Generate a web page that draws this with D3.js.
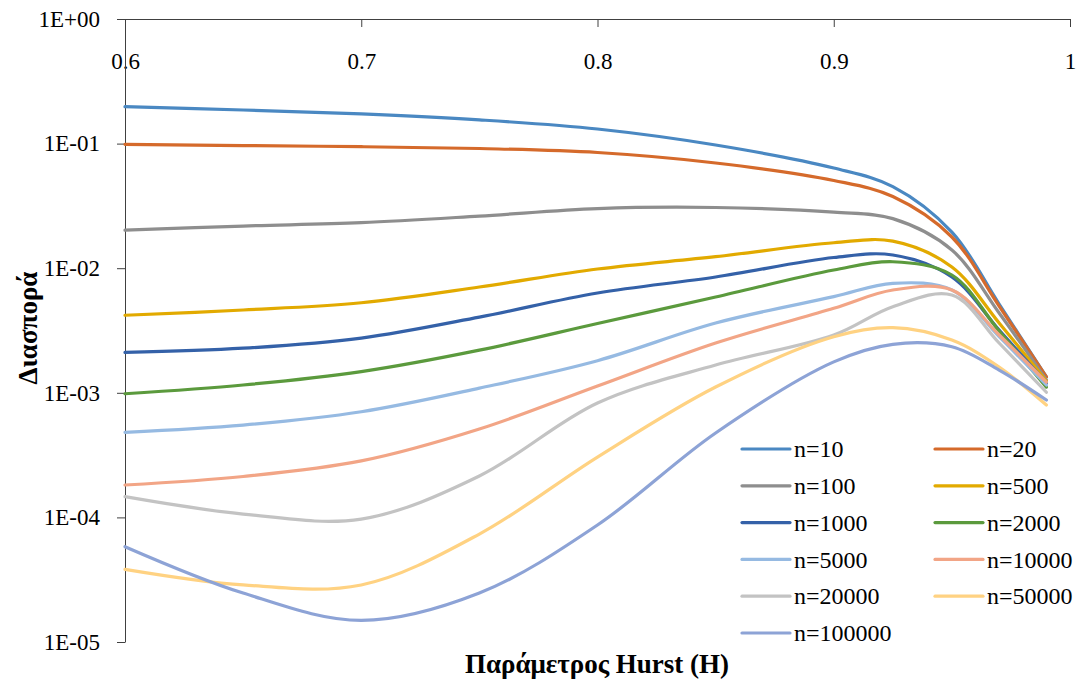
<!DOCTYPE html>
<html>
<head>
<meta charset="utf-8">
<script src="https://cdn.jsdelivr.net/npm/d3@7"></script>
<style>
	body { margin: 0; background: #fff; }
	svg text { font-family: 'Liberation Serif', 'DejaVu Serif', serif; fill: #000; }
	.axis path, .axis line { stroke: #404040; }
</style>
</head>
<body>
<div class="chart"></div>
<script>
// Hurst values sampled along the curves
const hurst = [0.6, 0.65, 0.7, 0.75, 0.8, 0.85, 0.9, 0.925, 0.95, 0.97, 0.99]

const seriesNames = ['n=10', 'n=20', 'n=100', 'n=500', 'n=1000', 'n=2000',
	'n=5000', 'n=10000', 'n=20000', 'n=50000', 'n=100000']

const n10 = [0.198, 0.186, 0.173, 0.155, 0.131, 0.0974, 0.0637, 0.0452, 0.0195, 0.00516, 0.00134]
const n20 = [0.0987, 0.0965, 0.0944, 0.0913, 0.0848, 0.0699, 0.0506, 0.0376, 0.0178, 0.00497, 0.00134]
const n100 = [0.0202, 0.0218, 0.0232, 0.0262, 0.0301, 0.0307, 0.0282, 0.0250, 0.0140, 0.00437, 0.00127]
const n500 = [0.00419, 0.00462, 0.00528, 0.00706, 0.00985, 0.01237, 0.0160, 0.0165, 0.01022, 0.00363, 0.00124]
const n1000 = [0.00211, 0.00228, 0.00275, 0.00405, 0.00632, 0.0085, 0.01218, 0.01276, 0.0085, 0.00319, 0.0012]
const n2000 = [0.000983, 0.001155, 0.00148, 0.00220, 0.00360, 0.00587, 0.00967, 0.01127, 0.00882, 0.00313, 0.00111]
const n5000 = [0.000482, 0.000551, 0.000705, 0.00109, 0.00181, 0.00363, 0.00591, 0.00756, 0.00668, 0.00282, 0.001155]
const n10000 = [0.000182, 0.000213, 0.000284, 0.000512, 0.001134, 0.00251, 0.00477, 0.00668, 0.00668, 0.00291, 0.00122]
const n20000 = [0.0001466, 0.0001064, 0.000097, 0.000215, 0.000828, 0.00167, 0.00291, 0.00491, 0.00609, 0.00251, 0.00101]
const n50000 = [0.0000383, 0.0000287, 0.0000287, 0.0000735, 0.000305, 0.001113, 0.00282, 0.00333, 0.00265, 0.00161, 0.000798]
const n100000 = [0.0000582, 0.0000247, 0.0000149, 0.0000247, 0.0000869, 0.000476, 0.00177, 0.00245, 0.00234, 0.00152, 0.000875]

const seriesValues = [n10, n20, n100, n500, n1000, n2000, n5000, n10000, n20000, n50000, n100000]

const colors = ['#4a88c2', '#d56a2b', '#8e8e8e', '#e2aa00', '#3461a8', '#5b9a3d',
	'#96bae2', '#f2a586', '#c3c3c3', '#ffd282', '#8da3d6']

const xTicks = [0.6, 0.7, 0.8, 0.9, 1]
const yTicks = [1e-5, 1e-4, 1e-3, 1e-2, 1e-1, 1]

const xTitle = 'Παράμετρος Hurst (H)'
const yTitle = 'Διασπορά'

const width = 1081
const height = 682
const margin = { top: 19, right: 11, bottom: 40, left: 125 }
const FONT_SIZE = 23

const scaleX = d3.scaleLinear()
	.domain([0.6, 1])
	.range([margin.left, width - margin.right])

const scaleY = d3.scaleLog()
	.domain([1e-5, 1])
	.range([height - margin.bottom, margin.top])

function formatExp(d) {
	const e = Math.round(Math.log10(d))
	const s = String(Math.abs(e)).padStart(2, '0')
	return `1E${e < 0 ? '-' : '+'}${s}`
}

const svg = d3.select('.chart')
	.append('svg')
	.attr('width', width)
	.attr('height', height)

// axes
const xAxis = svg.append('g')
	.attr('class', 'axis axis--x')
	.attr('transform', `translate(0, ${margin.top})`)
	.call(d3.axisBottom(scaleX)
		.tickValues(xTicks)
		.tickSize(8)
		.tickSizeOuter(0)
		.tickPadding(26)
		.tickFormat(d => d === 1 ? '1' : d3.format('.1f')(d)))

xAxis.selectAll('text')
	.style('font-size', `${FONT_SIZE}px`)

const yAxis = svg.append('g')
	.attr('class', 'axis axis--y')
	.attr('transform', `translate(${margin.left}, 0)`)
	.call(d3.axisLeft(scaleY)
		.tickValues(yTicks)
		.tickSize(8)
		.tickSizeOuter(0)
		.tickPadding(17)
		.tickFormat(formatExp))

yAxis.selectAll('text')
	.style('font-size', `${FONT_SIZE}px`)

// lines
const line = d3.line()
	.x((d, i) => scaleX(hurst[i]))
	.y(d => scaleY(d))
	.curve(d3.curveCatmullRom.alpha(0.5))

svg.append('g')
	.attr('class', 'series')
	.selectAll('path')
	.data(seriesValues)
	.enter().append('path')
		.attr('d', line)
		.attr('fill', 'none')
		.attr('stroke', (d, i) => colors[i])
		.attr('stroke-width', 3.2)
		.attr('stroke-linecap', 'round')

// titles
svg.append('text')
	.attr('x', 597)
	.attr('y', 673)
	.attr('text-anchor', 'middle')
	.style('font-size', '27px')
	.style('font-weight', 'bold')
	.text(xTitle)

svg.append('text')
	.attr('transform', 'translate(37, 328) rotate(-90)')
	.attr('text-anchor', 'middle')
	.style('font-size', '27px')
	.style('font-weight', 'bold')
	.text(yTitle)

// legend
const legend = svg.append('g')
	.attr('class', 'legend')
	.attr('transform', 'translate(742, 449)')

const item = legend.selectAll('g')
	.data(seriesNames)
	.enter().append('g')
		.attr('transform', (d, i) => `translate(${(i % 2) * 193}, ${Math.floor(i / 2) * 36.8})`)

item.append('line')
	.attr('x1', 0)
	.attr('x2', 48)
	.attr('stroke', (d, i) => colors[i])
	.attr('stroke-width', 3.2)
	.attr('stroke-linecap', 'round')

item.append('text')
	.attr('x', 52)
	.attr('dy', '0.34em')
	.style('font-size', '24px')
	.text(d => d)
</script>
</body>
</html>
